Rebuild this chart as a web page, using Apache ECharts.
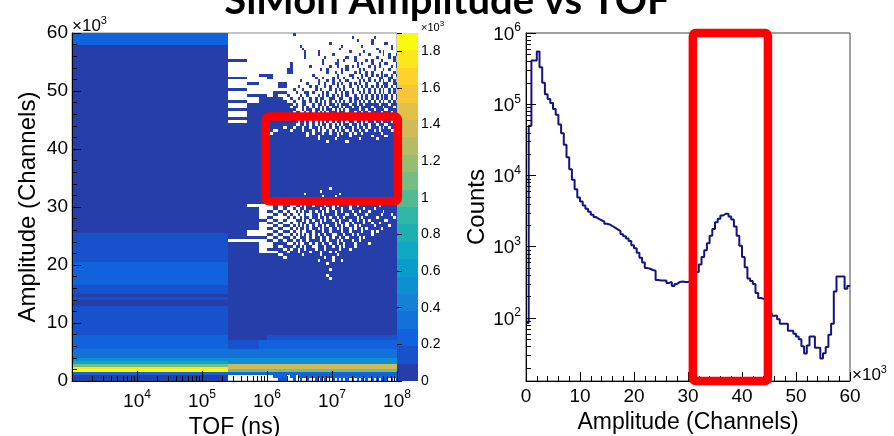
<!DOCTYPE html>
<html><head><meta charset="utf-8">
<script src="https://cdn.jsdelivr.net/npm/echarts@6/dist/echarts.min.js"></script>
<style>html,body{margin:0;padding:0;background:#fff}#c{width:894px;height:436px}</style>
</head><body><div id="c"></div>
<script>
// ================= DATA =================
const F = 'Liberation Sans, Arial, sans-serif';
const titleText = 'SiMon Amplitude vs TOF';

// --- 2D histogram (left): amplitude rows of 500 channels, 120 rows (0..60000)
const ampBinWidth = 500;
const ampRowCount = 120;
const tofAxisMin = 1e3, tofAxisMax = 1e8;
// TOF column edges (ns); the first column is the TOF bin 0..2.5e5
const tofEdges = [0, 2.5e5, 5e5, 7.5e5, 1e6, 1.25e6, 1.5e6, 1.75e6, 2e6, 2.25e6, 2.5e6, 2.75e6, 3e6,
  3.25e6, 3.5e6, 3.75e6, 4e6, 4.5e6, 5e6, 5.5e6, 6e6, 6.5e6, 7e6, 7.5e6, 8e6, 9e6, 1e7, 1.1e7, 1.2e7,
  1.3e7, 1.4e7, 1.5e7, 1.6e7, 1.8e7, 2e7, 2.2e7, 2.4e7, 2.6e7, 2.8e7, 3e7, 3.2e7, 3.6e7, 4e7, 4.4e7,
  4.8e7, 5.2e7, 5.6e7, 6e7, 6.4e7, 7.2e7, 8e7, 8.8e7, 9.6e7, 1e8];
// counts in the first TOF bin: [firstRow, lastRow, counts]
const firstTofBinBands = [[0,1,47],[2,2,237],[3,3,1850],[4,4,1760],[5,5,1090],[6,6,710],[7,7,520],
  [8,10,332],[11,15,237],[16,25,142],[26,27,47],[28,28,142],[29,29,47],[30,32,142],[33,40,237],
  [41,50,142],[51,115,47],[116,119,237]];
// counts in the later TOF columns when a cell is filled: [firstRow, lastRow, counts]
const laterTofBands = [[0,0,142],[1,2,237],[3,3,1090],[4,5,1380],[6,7,560],[8,10,332],[11,13,237],[14,15,142],[16,119,47]];
// [firstRow, lastRow, firstCol, lastCol, counts]   (col = index among the later TOF columns, 0..51)
const laterTofOverrides = [[11,13,0,1,142],[14,15,0,2,47]];
// row 0: only the listed later columns are filled
const sparseRows = {0:[5,6,9,12,15,18,20,22,25,27,29,31,33,35,37,39,41,43,45,47,49,51]};
// rows 96..119 are mostly empty: filled runs [firstRow,lastRow] per later column
const sparseBlock = [96, 119];
const fillRuns = {
  0:[[96,96],[100,100],[104,104],[110,110]], 1:[[98,98],[102,102]], 2:[[96,98],[105,105]],
  3:[[96,97],[104,105]], 4:[[96,99]], 5:[[96,97],[99,99],[101,102]], 6:[[96,96],[99,99],[101,102]],
  7:[[98,98],[106,107]], 8:[[97,97],[106,109]], 9:[[96,96],[100,100],[119,119]], 10:[[99,99]],
  11:[[97,97],[101,101]], 12:[[98,98],[103,103],[115,115]], 13:[[96,97],[100,100],[114,114]],
  14:[[96,96],[99,99],[111,113]], 15:[[98,99],[102,102]], 16:[[96,97],[101,101],[108,108]],
  17:[[99,99],[105,105]], 18:[[96,97],[100,101],[104,104]], 19:[[98,98],[102,103],[112,113]],
  20:[[96,97],[100,100],[107,107]], 21:[[97,99],[104,104],[109,110]], 22:[[96,96],[101,102],[111,111]],
  23:[[98,99],[103,103],[106,107]], 24:[[96,97],[100,101],[108,108],[116,116]],
  25:[[97,98],[102,104],[112,112]], 26:[[96,96],[99,100],[106,106],[109,109]],
  27:[[98,98],[101,102],[104,105],[108,110]], 28:[[96,97],[100,100],[103,103],[114,114]],
  29:[[97,99],[102,102],[106,107],[115,115]], 30:[[96,96],[100,101],[104,104],[110,110]],
  31:[[98,99],[103,103],[107,108],[111,111]], 32:[[96,97],[101,102],[105,105],[113,113]],
  33:[[99,100],[104,105],[108,108],[118,118]], 34:[[96,98],[102,102],[106,106],[110,111]],
  35:[[97,97],[100,101],[104,104],[108,109],[117,117]], 36:[[96,96],[99,99],[102,103],[106,107],[112,112]],
  37:[[97,98],[101,101],[104,105],[109,109],[115,115]], 38:[[96,96],[99,100],[103,103],[107,107],[113,113]],
  39:[[97,98],[101,102],[105,106],[110,110]], 40:[[96,96],[99,100],[103,104],[108,108],[112,112]],
  41:[[97,98],[101,101],[105,106],[109,110],[116,117]], 42:[[96,96],[99,100],[103,103],[107,108],[118,118]],
  43:[[97,98],[101,102],[105,105],[111,111],[114,114]], 44:[[96,96],[99,100],[103,104],[108,109],[113,113]],
  45:[[97,98],[101,101],[104,106],[110,110]], 46:[[96,96],[99,100],[102,103],[107,107],[112,113]],
  47:[[97,98],[101,102],[105,105],[109,109],[116,116]], 48:[[96,96],[99,100],[103,104],[107,107],[111,112]],
  49:[[97,98],[101,101],[104,105],[108,108],[114,115]], 50:[[96,96],[99,100],[102,103],[106,106],[110,111]],
  51:[[97,98],[101,102],[105,105],[108,109],[112,112]]
};
// empty cells in the wide later columns 0..10: row -> columns
const holeRows = {
  1:[0,1,2,3,7,10], 42:[6], 43:[5], 44:[2,3,4,7], 45:[2,6,8], 46:[2,3,5,9], 47:[2,3,7,8,10],
  48:[0,1,2,4,6,9], 49:[3,5,8,10], 50:[1,2,4,6,7,9], 51:[1,2,3,5,8,10], 52:[2,4,6,7,9],
  53:[2,3,5,8,10], 54:[2,4,6,7,9,10], 55:[3,5,7,8,9], 56:[2,4,5,6,8,10], 57:[2,3,5,7,9,10],
  58:[2,4,6,8,9], 59:[2,3,5,7,8,10], 60:[1,2,3,5,8,9], 61:[7,10], 62:[4,9],
  85:[3], 86:[4,8], 87:[6,9], 88:[10], 89:[0], 91:[0], 92:[0,9], 93:[10], 94:[0,8], 95:[0,9]
};
// empty runs [firstRow,lastRow] in the narrow later columns 11..51
const holeRuns = {
  11:[[44,45],[49,52],[56,56],[58,59],[88,90],[93,95]], 12:[[46,48],[53,54],[57,57],[60,61],[91,95]],
  13:[[43,43],[47,47],[50,51],[55,58],[86,87],[90,92]], 14:[[45,46],[51,53],[59,60],[64,64],[88,89],[93,94]],
  15:[[48,50],[54,55],[57,57],[84,85],[91,92],[95,95]], 16:[[44,44],[47,47],[52,53],[56,58],[62,62],[87,90],[94,95]],
  17:[[46,46],[49,51],[55,55],[60,61],[85,86],[92,93]], 18:[[45,47],[53,54],[58,58],[88,89],[91,91],[94,95]],
  19:[[41,41],[50,50],[52,52],[56,57],[61,62],[83,84],[86,87],[90,92]],
  20:[[43,44],[48,49],[54,55],[59,59],[65,65],[88,89],[93,94]],
  21:[[47,47],[51,53],[57,58],[63,63],[85,87],[91,92],[95,95]],
  22:[[42,42],[45,46],[50,50],[55,56],[60,61],[86,86],[89,90],[93,94]],
  23:[[36,36],[40,40],[48,49],[53,53],[58,59],[62,62],[82,82],[87,88],[91,92],[95,95]],
  24:[[35,35],[38,38],[44,44],[47,47],[51,52],[56,56],[66,66],[85,86],[89,90],[94,94]],
  25:[[41,42],[46,46],[49,50],[55,55],[59,60],[87,88],[91,91],[93,93]],
  26:[[44,44],[50,50],[53,54],[57,58],[63,63],[83,83],[86,86],[89,90],[95,95]],
  27:[[43,43],[47,48],[52,52],[56,56],[60,61],[84,85],[88,88],[92,93]],
  28:[[45,46],[49,49],[54,55],[64,64],[86,87],[90,91],[94,95]],
  29:[[41,41],[48,48],[51,53],[58,59],[85,85],[88,89],[93,93]],
  30:[[46,47],[50,50],[56,56],[61,62],[87,87],[90,91],[94,94]],
  31:[[49,49],[53,54],[57,57],[82,82],[86,86],[89,89],[92,93]],
  32:[[45,45],[51,52],[55,55],[59,60],[84,85],[88,88],[91,91],[95,95]],
  33:[[48,48],[50,50],[54,54],[58,58],[62,62],[86,87],[90,90],[94,94]],
  34:[[46,47],[52,53],[57,57],[85,85],[89,89],[92,92]],
  35:[[50,50],[55,56],[60,60],[87,88],[91,91],[95,95]],
  36:[[48,49],[53,53],[58,58],[83,83],[86,86],[90,90],[93,94]],
  37:[[51,52],[56,56],[85,85],[88,89],[92,92]],
  38:[[49,49],[54,55],[59,59],[87,87],[91,91],[95,95]],
  39:[[52,52],[57,57],[86,86],[89,89],[93,93]],
  40:[[47,47],[55,55],[58,58],[87,88],[92,92]],
  41:[[50,51],[54,54],[84,84],[90,90],[94,94]],
  42:[[53,53],[59,59],[86,86],[89,89],[93,93]],
  43:[[51,51],[56,56],[83,83],[88,88],[91,91]],
  44:[[54,54],[60,60],[86,87],[90,90],[95,95]],
  45:[[52,52],[57,57],[85,85],[89,89],[92,92]],
  46:[[58,58],[87,87],[91,91],[94,94]],
  47:[[55,55],[84,84],[88,88],[93,93]],
  48:[[53,53],[87,87],[90,90],[95,95]],
  49:[[57,57],[86,86],[89,89],[92,92]],
  50:[[56,56],[86,86],[90,90],[94,94]],
  51:[[88,88],[91,91]]
};
// colour scale (kBird) and z range
const zMax = 1900;
const paletteLevels = 20;
const zTickValues = [0,200,400,600,800,1000,1200,1400,1600,1800];
const birdStops = [[0,53,42,135],[0.125,15,92,221],[0.25,20,129,214],[0.375,6,164,202],[0.5,46,183,164],
  [0.625,135,191,119],[0.75,209,187,89],[0.875,254,200,50],[1,249,251,14]];
// annotation boxes
const leftBox = {tof:[9.55e5, 1.03e8], amp:[31000, 45600]};
const rightBox = {amp:[30900, 44800], counts:[13, 1e6]};

// --- 1D histogram (right): counts per 500-channel bin, 0..60000
const histCounts = [85,50000,410000,410000,550000,330000,200000,138000,118000,104000,
  86000,71000,52000,39000,27000,18000,12200,8700,6400,4900,
  4300,3800,3400,3100,2800,2600,2450,2350,2250,2100,
  2050,1950,1850,1750,1650,1500,1400,1300,1200,1050,
  950,820,700,600,500,490,470,460,340,335,
  335,335,310,320,280,300,320,325,320,320,
  325,325,440,440,560,714,890,1120,1420,1770,
  2200,2460,2740,2900,2900,2650,2400,1920,1420,1030,
  714,515,357,330,300,224,190,185,180,170,
  117,107,107,96,83,83,83,66,66,60,
  55,50,40,31.5,41,55,55,38,38,27,
  32,39,58,83,235,380,380,380,257,280];
const countsAxisMin = 13, countsAxisMax = 1e6;
const logMinorMultipliers = [2,3,4,5,6,7,8,9];

// ================= BUILD =================
function birdColor(count){
  const level = Math.min(paletteLevels, Math.floor(count / (zMax/paletteLevels)) + 1);
  const t = level / paletteLevels;
  for (let i=1;i<birdStops.length;i++){
    if (t <= birdStops[i][0] + 1e-9){
      const a=birdStops[i-1], b=birdStops[i], f=(t-a[0])/(b[0]-a[0]);
      return 'rgb('+Math.round(a[1]+f*(b[1]-a[1]))+','+Math.round(a[2]+f*(b[2]-a[2]))+','+Math.round(a[3]+f*(b[3]-a[3]))+')';
    }
  }
  return 'rgb(249,251,14)';
}
function bandValue(bands, r){ for (const b of bands) if (r>=b[0] && r<=b[1]) return b[2]; return 0; }
function inRuns(runs, r){ return !!runs && runs.some(q=>r>=q[0] && r<=q[1]); }

const cells = [];
for (let r=0;r<ampRowCount;r++){
  const y0=r*ampBinWidth, y1=y0+ampBinWidth;
  cells.push([Math.max(tofEdges[0], tofAxisMin), y0, tofEdges[1], y1, bandValue(firstTofBinBands, r)]);
  for (let j=0;j<tofEdges.length-2;j++){
    let v = bandValue(laterTofBands, r);
    for (const o of laterTofOverrides) if (r>=o[0]&&r<=o[1]&&j>=o[2]&&j<=o[3]) v=o[4];
    if (sparseRows[r]) { if (sparseRows[r].indexOf(j)<0) v=0; }
    else if (r>=sparseBlock[0] && r<=sparseBlock[1]) { if (!inRuns(fillRuns[j], r)) v=0; }
    else if ((holeRows[r] && holeRows[r].indexOf(j)>=0) || inRuns(holeRuns[j], r)) v=0;
    if (v>0) cells.push([tofEdges[j+1], y0, tofEdges[j+2], y1, v]);
  }
}
const colorbarBands = [];
for (let i=0;i<paletteLevels;i++){
  const lo=i*zMax/paletteLevels, hi=(i+1)*zMax/paletteLevels;
  colorbarBands.push([0, lo, 1, hi, (lo+hi)/2]);
}
const histPoints = histCounts.map((v,i)=>[i*ampBinWidth, v]);
histPoints.push([histCounts.length*ampBinWidth, histCounts[histCounts.length-1]]);

const tofMinor = [];
for (let e=3;e<8;e++) for (const m of logMinorMultipliers) tofMinor.push([m*Math.pow(10,e), 0]);
const countMinor = [];
for (let e=1;e<6;e++) for (const m of logMinorMultipliers){ const v=m*Math.pow(10,e); if (v>countsAxisMin) countMinor.push([0, v]); }

function rectItem(params, api){
  const p0 = api.coord([api.value(0), api.value(3)]);
  const p1 = api.coord([api.value(2), api.value(1)]);
  const x0=Math.round(p0[0]), y0=Math.round(p0[1]), x1=Math.round(p1[0]), y1=Math.round(p1[1]);
  return {type:'rect', shape:{x:x0, y:y0, width:x1-x0, height:y1-y0}, style:{fill: birdColor(api.value(4))}};
}
function boxItem(params, api){
  const p0 = api.coord([api.value(0), api.value(3)]);
  const p1 = api.coord([api.value(2), api.value(1)]);
  return {type:'rect', shape:{x:p0[0], y:p0[1], width:p1[0]-p0[0], height:p1[1]-p0[1], r:3},
    style:{fill:'none', stroke:'#ff0000', lineWidth:8.5}};
}
function isPow10(v){ const l=Math.log10(v); return Math.abs(l-Math.round(l))<1e-6; }
const supRich = {
  b:{fontSize:19, lineHeight:22, verticalAlign:'bottom', fontFamily:F, color:'#000'},
  s:{fontSize:12, lineHeight:12, verticalAlign:'top', fontFamily:F, color:'#000'}
};
const blackLine = {show:true, lineStyle:{color:'#000', width:1}};
const gridBase = {containLabel:false, outerBoundsMode:'none'};

const option = {
  animation:false,
  textStyle:{fontFamily:F, color:'#000'},
  grid:[
    Object.assign({left:72, top:33, width:325, height:348, show:true, borderColor:'#888', borderWidth:1}, gridBase),
    Object.assign({left:397, top:33, width:21, height:348, show:false}, gridBase),
    Object.assign({left:526, top:33, width:324, height:348, show:true, borderColor:'#444', borderWidth:1}, gridBase)
  ],
  xAxis:[
    {gridIndex:0, type:'log', logBase:10, min:tofAxisMin, max:tofAxisMax, z:10,
      axisLine:blackLine, splitLine:{show:false},
      axisTick:{show:true, inside:true, length:10, lineStyle:{color:'#000'}},
      axisLabel:{margin:8, rich:supRich, formatter:v=> (isPow10(v) && Math.round(Math.log10(v))>=4) ? '{b|10}{s|'+Math.round(Math.log10(v))+'}' : ''},
      name:'TOF (ns)', nameLocation:'middle', nameGap:28, nameTextStyle:{fontSize:23, fontFamily:F, color:'#000'}},
    {gridIndex:1, type:'value', min:0, max:1, show:false},
    {gridIndex:2, type:'value', min:0, max:60000, interval:10000, z:10,
      axisLine:blackLine, splitLine:{show:false},
      axisTick:{show:true, inside:true, length:9, lineStyle:{color:'#000'}},
      minorTick:{show:true, splitNumber:5, length:5, lineStyle:{color:'#000'}},
      axisLabel:{margin:6, fontSize:19, color:'#000', formatter:v=>String(v/1000)},
      name:'Amplitude (Channels)', nameLocation:'middle', nameGap:28, nameTextStyle:{fontSize:23, fontFamily:F, color:'#000'}}
  ],
  yAxis:[
    {gridIndex:0, type:'value', min:0, max:60000, interval:10000, z:10,
      axisLine:blackLine, splitLine:{show:false},
      axisTick:{show:true, inside:true, length:9, lineStyle:{color:'#000'}},
      minorTick:{show:true, splitNumber:5, length:5, lineStyle:{color:'#000'}},
      axisLabel:{margin:4, fontSize:19, color:'#000', formatter:v=>String(v/1000)},
      name:'Amplitude (Channels)', nameLocation:'middle', nameGap:32, nameTextStyle:{fontSize:24, fontFamily:F, color:'#000'}},
    {gridIndex:1, type:'value', min:0, max:zMax, interval:200, position:'right', z:10,
      axisLine:{show:false}, splitLine:{show:false},
      axisTick:{show:true, inside:false, length:5, lineStyle:{color:'#000'}},
      axisLabel:{margin:3, fontSize:14, color:'#000', formatter:v=> zTickValues.indexOf(v)>=0 ? String(v/1000) : ''}},
    {gridIndex:2, type:'log', logBase:10, min:countsAxisMin, max:countsAxisMax, z:10,
      axisLine:blackLine, splitLine:{show:false},
      axisTick:{show:true, inside:true, length:10, lineStyle:{color:'#000'}},
      axisLabel:{margin:5, rich:supRich, formatter:v=> isPow10(v) ? '{b|10}{s|'+Math.round(Math.log10(v))+'}' : ''},
      name:'Counts', nameLocation:'middle', nameGap:32, nameTextStyle:{fontSize:24, fontFamily:F, color:'#000'}}
  ],
  series:[
    {type:'custom', xAxisIndex:0, yAxisIndex:0, data:cells, encode:{x:[0,2], y:[1,3]}, renderItem:rectItem, z:2, silent:true},
    {type:'custom', xAxisIndex:1, yAxisIndex:1, data:colorbarBands, encode:{x:[0,2], y:[1,3]}, renderItem:rectItem, z:2, silent:true},
    {type:'custom', xAxisIndex:0, yAxisIndex:0, data:tofMinor, encode:{x:0, y:1}, z:11, silent:true,
      renderItem:(params, api)=>{ const p=api.coord([api.value(0), 0]); const x=Math.round(p[0])+0.5;
        return {type:'line', shape:{x1:x, y1:p[1], x2:x, y2:p[1]-5}, style:{stroke:'#000', lineWidth:1}}; }},
    {type:'line', xAxisIndex:2, yAxisIndex:2, step:'end', showSymbol:false, symbol:'none', data:histPoints,
      lineStyle:{color:'#14147f', width:2}, z:5, silent:true},
    {type:'custom', xAxisIndex:2, yAxisIndex:2, data:countMinor, encode:{x:0, y:1}, z:11, silent:true,
      renderItem:(params, api)=>{ const p=api.coord([0, api.value(1)]); const y=Math.round(p[1])+0.5;
        return {type:'line', shape:{x1:p[0], y1:y, x2:p[0]+5, y2:y}, style:{stroke:'#000', lineWidth:1}}; }},
    {type:'custom', xAxisIndex:0, yAxisIndex:0, clip:false, z:20, silent:true,
      data:[[leftBox.tof[0], leftBox.amp[0], leftBox.tof[1], leftBox.amp[1]]], encode:{x:[0,2], y:[1,3]}, renderItem:boxItem},
    {type:'custom', xAxisIndex:2, yAxisIndex:2, clip:false, z:20, silent:true,
      data:[[rightBox.amp[0], rightBox.counts[0], rightBox.amp[1], rightBox.counts[1]]], encode:{x:[0,2], y:[1,3]}, renderItem:boxItem}
  ],
  graphic:[
    {type:'text', x:447, y:1, z:30, style:{text:titleText, fontFamily:'Lato', fontWeight:'bold', fontSize:40, fill:'#000', align:'center', verticalAlign:'middle'}},
    {type:'text', x:72, y:35, z:30, style:{text:'{b|×10}{s|3}', align:'left', verticalAlign:'bottom',
      rich:{b:{fontSize:17, lineHeight:20, verticalAlign:'bottom', fontFamily:F, fill:'#000'}, s:{fontSize:11, lineHeight:11, verticalAlign:'top', fontFamily:F, fill:'#000'}}}},
    {type:'text', x:421, y:33, z:30, style:{text:'{b|×10}{s|3}', align:'left', verticalAlign:'bottom',
      rich:{b:{fontSize:11, lineHeight:13, verticalAlign:'bottom', fontFamily:F, fill:'#000'}, s:{fontSize:8, lineHeight:8, verticalAlign:'top', fontFamily:F, fill:'#000'}}}},
    {type:'text', x:852, y:384, z:30, style:{text:'{b|×10}{s|3}', align:'left', verticalAlign:'bottom',
      rich:{b:{fontSize:17, lineHeight:20, verticalAlign:'bottom', fontFamily:F, fill:'#000'}, s:{fontSize:11, lineHeight:11, verticalAlign:'top', fontFamily:F, fill:'#000'}}}}
  ]
};
const chart = echarts.init(document.getElementById('c'), null, {renderer:'canvas'});
chart.setOption(option);
</script>
</body></html>
